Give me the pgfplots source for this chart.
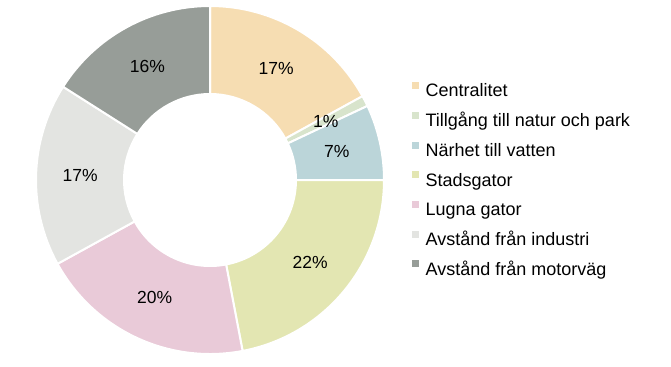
\documentclass[border=0pt]{standalone}
\usepackage{pgfplots}
\pgfplotsset{compat=1.18}
\usepackage{pgfplotstable}
\usepackage{fontspec}
\setmainfont{Liberation Sans}
\definecolor{c0}{HTML}{F6DDB2}
\definecolor{c1}{HTML}{D8E4CC}
\definecolor{c2}{HTML}{BBD5D9}
\definecolor{c3}{HTML}{E3E6B2}
\definecolor{c4}{HTML}{E9CAD8}
\definecolor{c5}{HTML}{E3E4E1}
\definecolor{c6}{HTML}{979D98}
\pgfplotstableread[col sep=comma]{
name,value
Centralitet,17
Tillgång till natur och park,1
Närhet till vatten,7
Stadsgator,22
Lugna gator,20
Avstånd från industri,17
Avstånd från motorväg,16
}\piedata
\newcommand\pctfont{\fontsize{17.5bp}{20bp}\selectfont}
\def\cum{0}%
\pgfplotsforeachungrouped \i in {0,...,6}{%
  \pgfplotstablegetelem{\i}{value}\of\piedata
  \expandafter\xdef\csname pstart\i\endcsname{\cum}%
  \expandafter\xdef\csname pval\i\endcsname{\pgfplotsretval}%
  \pgfmathsetmacro\cum{\cum+\pgfplotsretval}%
  \expandafter\xdef\csname pend\i\endcsname{\cum}%
}%
\def\cx{210}\def\cy{177}%
\def\Ro{174bp}\def\Ri{86bp}\def\Rd{88bp}\def\Rm{130bp}%
\begin{document}%
\begin{tikzpicture}
\begin{axis}[
  scale only axis, width=671bp, height=357bp,
  xmin=0, xmax=671, ymin=0, ymax=357,
  hide axis, clip=false,
  legend style={at={(axis cs:412,275)}, anchor=north west, draw=none, fill=none,
    inner sep=0pt, row sep=11.0bp, column sep=7bp,
    font=\fontsize{18bp}{20bp}\selectfont,
    nodes={inner sep=0pt, text height=13bp, text depth=4bp}},
  legend cell align=left,
  legend image code/.code={\fill[#1] (0bp,4bp) rectangle (6bp,10bp);},
]
\path (axis cs:0,0) rectangle (axis cs:671,357);
\pgfplotsinvokeforeach{0,...,6}{
  \pgfmathsetmacro\aone{90-3.6*\csname pstart#1\endcsname}
  \pgfmathsetmacro\atwo{90-3.6*\csname pend#1\endcsname}
  \edef\doit{\noexpand\fill[c#1, draw=white, line width=2bp] (axis cs:\cx,\cy) ++(\aone:\Ro) arc[start angle=\aone, end angle=\atwo, radius=\Ro] -- ++(\atwo+180:\Rd) arc[start angle=\atwo, end angle=\aone, radius=\Ri] -- cycle;}
  \doit
}
\pgfplotsinvokeforeach{0,...,6}{
  \pgfmathsetmacro\amid{90-1.8*(\csname pstart#1\endcsname+\csname pend#1\endcsname)}
  \edef\doit{\noexpand\path (axis cs:\cx,\cy) ++(\amid:\Rm) node[font=\noexpand\pctfont, inner sep=0pt] {\csname pval#1\endcsname\noexpand\%};}
  \doit
}
\addlegendimage{c0}
\addlegendimage{c1}
\addlegendimage{c2}
\addlegendimage{c3}
\addlegendimage{c4}
\addlegendimage{c5}
\addlegendimage{c6}
\legend{Centralitet,Tillgång till natur och park,Närhet till vatten,Stadsgator,Lugna gator,Avstånd från industri,Avstånd från motorväg}
\end{axis}
\end{tikzpicture}%
\end{document}
